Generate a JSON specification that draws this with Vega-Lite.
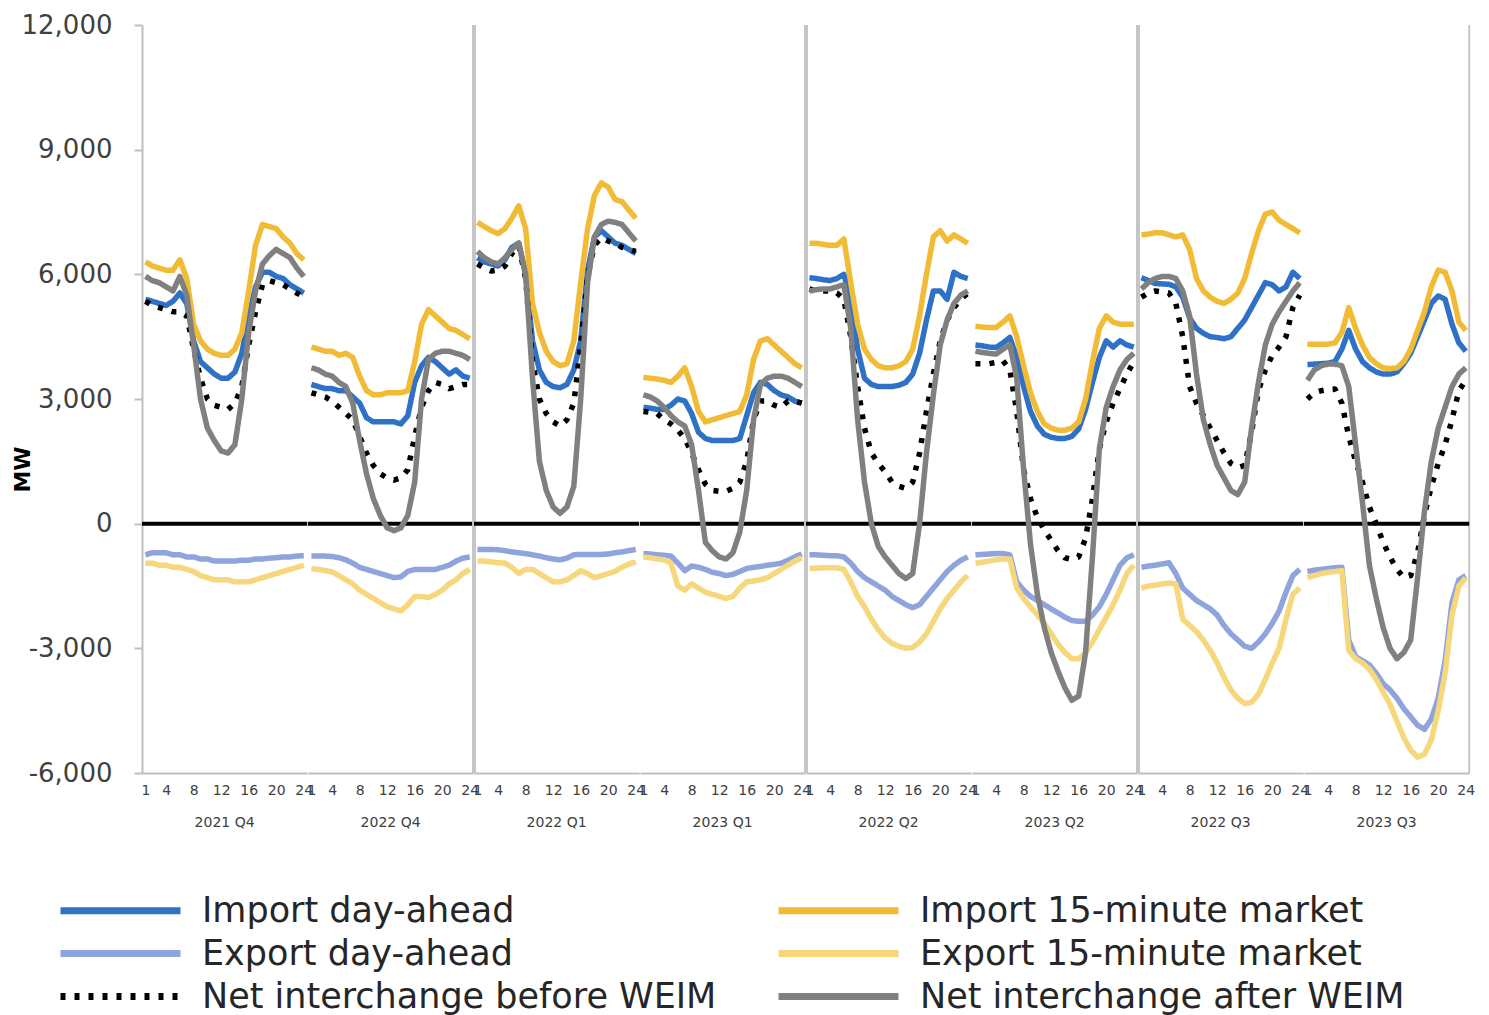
{
  "$schema": "https://vega.github.io/schema/vega-lite/v6.json",
  "background": "white",
  "padding": {"left": 11, "top": 12, "right": 10, "bottom": 4},
  "bounds": "flush",
  "config": {
    "view": {"stroke": null},
    "font": "DejaVu Sans",
    "axis": {"labelFont": "DejaVu Sans", "titleFont": "DejaVu Sans"},
    "legend": {"labelFont": "DejaVu Sans"}
  },
  "data": {"values": [
{"q":"2021 Q4","h":1,"ida":5400,"i15":6300,"eda":-750,"e15":-950,"nb":5350,"na":5950},
{"q":"2021 Q4","h":2,"ida":5350,"i15":6200,"eda":-700,"e15":-950,"nb":5250,"na":5850},
{"q":"2021 Q4","h":3,"ida":5300,"i15":6150,"eda":-700,"e15":-1000,"nb":5200,"na":5800},
{"q":"2021 Q4","h":4,"ida":5250,"i15":6100,"eda":-700,"e15":-1000,"nb":5150,"na":5700},
{"q":"2021 Q4","h":5,"ida":5350,"i15":6100,"eda":-750,"e15":-1050,"nb":5100,"na":5600},
{"q":"2021 Q4","h":6,"ida":5550,"i15":6350,"eda":-750,"e15":-1050,"nb":5100,"na":5950},
{"q":"2021 Q4","h":7,"ida":5300,"i15":5900,"eda":-800,"e15":-1100,"nb":5000,"na":5500},
{"q":"2021 Q4","h":8,"ida":4400,"i15":4800,"eda":-800,"e15":-1150,"nb":4200,"na":4300},
{"q":"2021 Q4","h":9,"ida":3900,"i15":4400,"eda":-850,"e15":-1250,"nb":3500,"na":3000},
{"q":"2021 Q4","h":10,"ida":3750,"i15":4200,"eda":-850,"e15":-1300,"nb":3000,"na":2300},
{"q":"2021 Q4","h":11,"ida":3600,"i15":4100,"eda":-900,"e15":-1350,"nb":2850,"na":2000},
{"q":"2021 Q4","h":12,"ida":3500,"i15":4050,"eda":-900,"e15":-1350,"nb":2800,"na":1750},
{"q":"2021 Q4","h":13,"ida":3500,"i15":4050,"eda":-900,"e15":-1350,"nb":2750,"na":1700},
{"q":"2021 Q4","h":14,"ida":3650,"i15":4200,"eda":-900,"e15":-1400,"nb":2900,"na":1900},
{"q":"2021 Q4","h":15,"ida":4100,"i15":4600,"eda":-880,"e15":-1400,"nb":3300,"na":3000},
{"q":"2021 Q4","h":16,"ida":5000,"i15":5600,"eda":-880,"e15":-1400,"nb":4300,"na":4600},
{"q":"2021 Q4","h":17,"ida":5700,"i15":6700,"eda":-850,"e15":-1350,"nb":5100,"na":5600},
{"q":"2021 Q4","h":18,"ida":6050,"i15":7200,"eda":-850,"e15":-1300,"nb":5750,"na":6250},
{"q":"2021 Q4","h":19,"ida":6050,"i15":7150,"eda":-830,"e15":-1250,"nb":5850,"na":6450},
{"q":"2021 Q4","h":20,"ida":5950,"i15":7100,"eda":-820,"e15":-1200,"nb":5800,"na":6600},
{"q":"2021 Q4","h":21,"ida":5900,"i15":6900,"eda":-800,"e15":-1150,"nb":5750,"na":6500},
{"q":"2021 Q4","h":22,"ida":5750,"i15":6750,"eda":-800,"e15":-1100,"nb":5650,"na":6400},
{"q":"2021 Q4","h":23,"ida":5650,"i15":6500,"eda":-780,"e15":-1050,"nb":5550,"na":6150},
{"q":"2021 Q4","h":24,"ida":5550,"i15":6350,"eda":-770,"e15":-1000,"nb":5450,"na":5950},
{"q":"2022 Q4","h":1,"ida":3350,"i15":4250,"eda":-780,"e15":-1080,"nb":3150,"na":3750},
{"q":"2022 Q4","h":2,"ida":3300,"i15":4200,"eda":-780,"e15":-1100,"nb":3100,"na":3700},
{"q":"2022 Q4","h":3,"ida":3250,"i15":4150,"eda":-780,"e15":-1130,"nb":3050,"na":3600},
{"q":"2022 Q4","h":4,"ida":3250,"i15":4150,"eda":-790,"e15":-1160,"nb":2950,"na":3550},
{"q":"2022 Q4","h":5,"ida":3200,"i15":4050,"eda":-820,"e15":-1250,"nb":2800,"na":3400},
{"q":"2022 Q4","h":6,"ida":3200,"i15":4100,"eda":-870,"e15":-1350,"nb":2650,"na":3300},
{"q":"2022 Q4","h":7,"ida":3050,"i15":4000,"eda":-950,"e15":-1450,"nb":2500,"na":2900},
{"q":"2022 Q4","h":8,"ida":2900,"i15":3550,"eda":-1050,"e15":-1600,"nb":2100,"na":2000},
{"q":"2022 Q4","h":9,"ida":2550,"i15":3200,"eda":-1100,"e15":-1700,"nb":1700,"na":1200},
{"q":"2022 Q4","h":10,"ida":2450,"i15":3100,"eda":-1150,"e15":-1800,"nb":1400,"na":600},
{"q":"2022 Q4","h":11,"ida":2450,"i15":3100,"eda":-1200,"e15":-1900,"nb":1200,"na":200},
{"q":"2022 Q4","h":12,"ida":2450,"i15":3150,"eda":-1250,"e15":-2000,"nb":1100,"na":-100},
{"q":"2022 Q4","h":13,"ida":2450,"i15":3150,"eda":-1300,"e15":-2050,"nb":1050,"na":-170},
{"q":"2022 Q4","h":14,"ida":2400,"i15":3150,"eda":-1280,"e15":-2100,"nb":1100,"na":-100},
{"q":"2022 Q4","h":15,"ida":2600,"i15":3200,"eda":-1150,"e15":-1950,"nb":1300,"na":200},
{"q":"2022 Q4","h":16,"ida":3400,"i15":3900,"eda":-1100,"e15":-1750,"nb":2100,"na":1000},
{"q":"2022 Q4","h":17,"ida":3800,"i15":4800,"eda":-1100,"e15":-1750,"nb":2800,"na":3000},
{"q":"2022 Q4","h":18,"ida":4000,"i15":5150,"eda":-1100,"e15":-1780,"nb":3200,"na":3950},
{"q":"2022 Q4","h":19,"ida":3900,"i15":5000,"eda":-1100,"e15":-1700,"nb":3400,"na":4100},
{"q":"2022 Q4","h":20,"ida":3750,"i15":4850,"eda":-1050,"e15":-1600,"nb":3350,"na":4150},
{"q":"2022 Q4","h":21,"ida":3600,"i15":4700,"eda":-1000,"e15":-1450,"nb":3250,"na":4150},
{"q":"2022 Q4","h":22,"ida":3700,"i15":4650,"eda":-900,"e15":-1350,"nb":3300,"na":4100},
{"q":"2022 Q4","h":23,"ida":3550,"i15":4550,"eda":-830,"e15":-1200,"nb":3350,"na":4050},
{"q":"2022 Q4","h":24,"ida":3500,"i15":4450,"eda":-800,"e15":-1100,"nb":3350,"na":3950},
{"q":"2022 Q1","h":1,"ida":6400,"i15":7250,"eda":-620,"e15":-900,"nb":6250,"na":6550},
{"q":"2022 Q1","h":2,"ida":6300,"i15":7150,"eda":-620,"e15":-900,"nb":6150,"na":6400},
{"q":"2022 Q1","h":3,"ida":6250,"i15":7050,"eda":-620,"e15":-920,"nb":6080,"na":6300},
{"q":"2022 Q1","h":4,"ida":6200,"i15":6980,"eda":-630,"e15":-940,"nb":6100,"na":6250},
{"q":"2022 Q1","h":5,"ida":6350,"i15":7100,"eda":-650,"e15":-950,"nb":6200,"na":6400},
{"q":"2022 Q1","h":6,"ida":6650,"i15":7350,"eda":-680,"e15":-1050,"nb":6500,"na":6600},
{"q":"2022 Q1","h":7,"ida":6750,"i15":7650,"eda":-700,"e15":-1200,"nb":6700,"na":6750},
{"q":"2022 Q1","h":8,"ida":6000,"i15":7100,"eda":-720,"e15":-1100,"nb":5900,"na":6000},
{"q":"2022 Q1","h":9,"ida":4400,"i15":5300,"eda":-750,"e15":-1100,"nb":3900,"na":3500},
{"q":"2022 Q1","h":10,"ida":3700,"i15":4600,"eda":-780,"e15":-1200,"nb":3000,"na":1500},
{"q":"2022 Q1","h":11,"ida":3400,"i15":4150,"eda":-820,"e15":-1300,"nb":2650,"na":800},
{"q":"2022 Q1","h":12,"ida":3300,"i15":3900,"eda":-850,"e15":-1400,"nb":2450,"na":400},
{"q":"2022 Q1","h":13,"ida":3270,"i15":3800,"eda":-870,"e15":-1400,"nb":2350,"na":250},
{"q":"2022 Q1","h":14,"ida":3350,"i15":3850,"eda":-830,"e15":-1350,"nb":2500,"na":400},
{"q":"2022 Q1","h":15,"ida":3700,"i15":4400,"eda":-750,"e15":-1250,"nb":2900,"na":900},
{"q":"2022 Q1","h":16,"ida":4400,"i15":5800,"eda":-740,"e15":-1130,"nb":4300,"na":3000},
{"q":"2022 Q1","h":17,"ida":6100,"i15":7100,"eda":-740,"e15":-1200,"nb":5950,"na":5800},
{"q":"2022 Q1","h":18,"ida":6900,"i15":7900,"eda":-740,"e15":-1300,"nb":6700,"na":6900},
{"q":"2022 Q1","h":19,"ida":7050,"i15":8200,"eda":-740,"e15":-1250,"nb":6880,"na":7200},
{"q":"2022 Q1","h":20,"ida":6900,"i15":8100,"eda":-730,"e15":-1200,"nb":6800,"na":7280},
{"q":"2022 Q1","h":21,"ida":6750,"i15":7800,"eda":-700,"e15":-1150,"nb":6750,"na":7250},
{"q":"2022 Q1","h":22,"ida":6700,"i15":7750,"eda":-680,"e15":-1050,"nb":6650,"na":7200},
{"q":"2022 Q1","h":23,"ida":6600,"i15":7550,"eda":-650,"e15":-970,"nb":6600,"na":7000},
{"q":"2022 Q1","h":24,"ida":6500,"i15":7350,"eda":-620,"e15":-920,"nb":6550,"na":6800},
{"q":"2023 Q1","h":1,"ida":2800,"i15":3520,"eda":-720,"e15":-800,"nb":2700,"na":3100},
{"q":"2023 Q1","h":2,"ida":2780,"i15":3500,"eda":-730,"e15":-820,"nb":2680,"na":3050},
{"q":"2023 Q1","h":3,"ida":2750,"i15":3480,"eda":-750,"e15":-850,"nb":2650,"na":2950},
{"q":"2023 Q1","h":4,"ida":2750,"i15":3450,"eda":-760,"e15":-870,"nb":2500,"na":2800},
{"q":"2023 Q1","h":5,"ida":2850,"i15":3400,"eda":-780,"e15":-950,"nb":2400,"na":2600},
{"q":"2023 Q1","h":6,"ida":3000,"i15":3550,"eda":-950,"e15":-1500,"nb":2250,"na":2450},
{"q":"2023 Q1","h":7,"ida":2950,"i15":3750,"eda":-1130,"e15":-1600,"nb":2050,"na":2350},
{"q":"2023 Q1","h":8,"ida":2650,"i15":3300,"eda":-1020,"e15":-1450,"nb":1700,"na":1900},
{"q":"2023 Q1","h":9,"ida":2200,"i15":2700,"eda":-1050,"e15":-1550,"nb":1300,"na":800},
{"q":"2023 Q1","h":10,"ida":2050,"i15":2450,"eda":-1100,"e15":-1650,"nb":950,"na":-450},
{"q":"2023 Q1","h":11,"ida":2000,"i15":2500,"eda":-1170,"e15":-1700,"nb":800,"na":-650},
{"q":"2023 Q1","h":12,"ida":2000,"i15":2550,"eda":-1200,"e15":-1750,"nb":780,"na":-800},
{"q":"2023 Q1","h":13,"ida":2000,"i15":2600,"eda":-1250,"e15":-1800,"nb":780,"na":-850},
{"q":"2023 Q1","h":14,"ida":2000,"i15":2650,"eda":-1220,"e15":-1750,"nb":850,"na":-700},
{"q":"2023 Q1","h":15,"ida":2050,"i15":2700,"eda":-1150,"e15":-1550,"nb":1000,"na":-200},
{"q":"2023 Q1","h":16,"ida":2600,"i15":3100,"eda":-1080,"e15":-1400,"nb":1500,"na":800},
{"q":"2023 Q1","h":17,"ida":3150,"i15":3950,"eda":-1050,"e15":-1380,"nb":2500,"na":2500},
{"q":"2023 Q1","h":18,"ida":3400,"i15":4400,"eda":-1030,"e15":-1350,"nb":2950,"na":3350},
{"q":"2023 Q1","h":19,"ida":3350,"i15":4450,"eda":-1000,"e15":-1300,"nb":2950,"na":3500},
{"q":"2023 Q1","h":20,"ida":3200,"i15":4300,"eda":-980,"e15":-1200,"nb":2850,"na":3550},
{"q":"2023 Q1","h":21,"ida":3100,"i15":4150,"eda":-950,"e15":-1100,"nb":2800,"na":3550},
{"q":"2023 Q1","h":22,"ida":3050,"i15":4000,"eda":-880,"e15":-1000,"nb":2950,"na":3500},
{"q":"2023 Q1","h":23,"ida":2950,"i15":3850,"eda":-800,"e15":-900,"nb":2950,"na":3400},
{"q":"2023 Q1","h":24,"ida":2900,"i15":3750,"eda":-730,"e15":-820,"nb":2900,"na":3300},
{"q":"2022 Q2","h":1,"ida":5920,"i15":6750,"eda":-750,"e15":-1080,"nb":5650,"na":5600},
{"q":"2022 Q2","h":2,"ida":5900,"i15":6750,"eda":-750,"e15":-1070,"nb":5600,"na":5630},
{"q":"2022 Q2","h":3,"ida":5870,"i15":6720,"eda":-760,"e15":-1060,"nb":5600,"na":5650},
{"q":"2022 Q2","h":4,"ida":5850,"i15":6700,"eda":-770,"e15":-1060,"nb":5600,"na":5650},
{"q":"2022 Q2","h":5,"ida":5900,"i15":6700,"eda":-770,"e15":-1060,"nb":5550,"na":5700},
{"q":"2022 Q2","h":6,"ida":6000,"i15":6850,"eda":-800,"e15":-1100,"nb":5400,"na":5750},
{"q":"2022 Q2","h":7,"ida":5400,"i15":5800,"eda":-950,"e15":-1400,"nb":4500,"na":4700},
{"q":"2022 Q2","h":8,"ida":4200,"i15":4800,"eda":-1150,"e15":-1750,"nb":3300,"na":2500},
{"q":"2022 Q2","h":9,"ida":3500,"i15":4200,"eda":-1300,"e15":-2000,"nb":2300,"na":1000},
{"q":"2022 Q2","h":10,"ida":3350,"i15":3950,"eda":-1400,"e15":-2300,"nb":1700,"na":0},
{"q":"2022 Q2","h":11,"ida":3300,"i15":3800,"eda":-1500,"e15":-2550,"nb":1450,"na":-550},
{"q":"2022 Q2","h":12,"ida":3300,"i15":3750,"eda":-1600,"e15":-2750,"nb":1250,"na":-800},
{"q":"2022 Q2","h":13,"ida":3300,"i15":3750,"eda":-1750,"e15":-2880,"nb":1000,"na":-1000},
{"q":"2022 Q2","h":14,"ida":3330,"i15":3800,"eda":-1850,"e15":-2950,"nb":900,"na":-1200},
{"q":"2022 Q2","h":15,"ida":3400,"i15":3900,"eda":-1950,"e15":-3000,"nb":850,"na":-1320},
{"q":"2022 Q2","h":16,"ida":3600,"i15":4200,"eda":-2020,"e15":-2980,"nb":1000,"na":-1200},
{"q":"2022 Q2","h":17,"ida":4100,"i15":5000,"eda":-1950,"e15":-2850,"nb":1700,"na":0},
{"q":"2022 Q2","h":18,"ida":4900,"i15":6000,"eda":-1750,"e15":-2650,"nb":2700,"na":1700},
{"q":"2022 Q2","h":19,"ida":5600,"i15":6900,"eda":-1550,"e15":-2350,"nb":3600,"na":3100},
{"q":"2022 Q2","h":20,"ida":5600,"i15":7050,"eda":-1350,"e15":-2050,"nb":4400,"na":4300},
{"q":"2022 Q2","h":21,"ida":5400,"i15":6800,"eda":-1150,"e15":-1800,"nb":4900,"na":4900},
{"q":"2022 Q2","h":22,"ida":6050,"i15":6950,"eda":-1000,"e15":-1600,"nb":5200,"na":5300},
{"q":"2022 Q2","h":23,"ida":5950,"i15":6850,"eda":-880,"e15":-1400,"nb":5400,"na":5500},
{"q":"2022 Q2","h":24,"ida":5900,"i15":6750,"eda":-800,"e15":-1250,"nb":5550,"na":5600},
{"q":"2023 Q2","h":1,"ida":4300,"i15":4750,"eda":-750,"e15":-950,"nb":3850,"na":4150},
{"q":"2023 Q2","h":2,"ida":4280,"i15":4730,"eda":-740,"e15":-930,"nb":3850,"na":4120},
{"q":"2023 Q2","h":3,"ida":4250,"i15":4720,"eda":-730,"e15":-900,"nb":3850,"na":4100},
{"q":"2023 Q2","h":4,"ida":4240,"i15":4720,"eda":-720,"e15":-870,"nb":3880,"na":4080},
{"q":"2023 Q2","h":5,"ida":4350,"i15":4850,"eda":-720,"e15":-850,"nb":3920,"na":4200},
{"q":"2023 Q2","h":6,"ida":4480,"i15":5000,"eda":-750,"e15":-850,"nb":3700,"na":4300},
{"q":"2023 Q2","h":7,"ida":4000,"i15":4500,"eda":-1400,"e15":-1550,"nb":2700,"na":3500},
{"q":"2023 Q2","h":8,"ida":3300,"i15":3800,"eda":-1600,"e15":-1800,"nb":1300,"na":1300},
{"q":"2023 Q2","h":9,"ida":2700,"i15":3150,"eda":-1750,"e15":-2000,"nb":600,"na":-500},
{"q":"2023 Q2","h":10,"ida":2350,"i15":2700,"eda":-1850,"e15":-2200,"nb":150,"na":-1700},
{"q":"2023 Q2","h":11,"ida":2150,"i15":2400,"eda":-1950,"e15":-2400,"nb":-150,"na":-2500},
{"q":"2023 Q2","h":12,"ida":2080,"i15":2300,"eda":-2050,"e15":-2650,"nb":-400,"na":-3100},
{"q":"2023 Q2","h":13,"ida":2050,"i15":2250,"eda":-2150,"e15":-2900,"nb":-650,"na":-3550},
{"q":"2023 Q2","h":14,"ida":2050,"i15":2250,"eda":-2250,"e15":-3100,"nb":-820,"na":-3950},
{"q":"2023 Q2","h":15,"ida":2100,"i15":2300,"eda":-2330,"e15":-3250,"nb":-860,"na":-4250},
{"q":"2023 Q2","h":16,"ida":2280,"i15":2450,"eda":-2350,"e15":-3250,"nb":-800,"na":-4150},
{"q":"2023 Q2","h":17,"ida":2750,"i15":3000,"eda":-2350,"e15":-3100,"nb":-350,"na":-3100},
{"q":"2023 Q2","h":18,"ida":3400,"i15":3900,"eda":-2200,"e15":-2850,"nb":600,"na":-800},
{"q":"2023 Q2","h":19,"ida":4000,"i15":4700,"eda":-2000,"e15":-2550,"nb":1800,"na":1800},
{"q":"2023 Q2","h":20,"ida":4400,"i15":5000,"eda":-1700,"e15":-2250,"nb":2450,"na":2800},
{"q":"2023 Q2","h":21,"ida":4250,"i15":4850,"eda":-1350,"e15":-1950,"nb":2900,"na":3300},
{"q":"2023 Q2","h":22,"ida":4400,"i15":4800,"eda":-1000,"e15":-1600,"nb":3250,"na":3700},
{"q":"2023 Q2","h":23,"ida":4300,"i15":4800,"eda":-820,"e15":-1200,"nb":3600,"na":3950},
{"q":"2023 Q2","h":24,"ida":4250,"i15":4800,"eda":-750,"e15":-1000,"nb":3900,"na":4100},
{"q":"2022 Q3","h":1,"ida":5920,"i15":6950,"eda":-1050,"e15":-1550,"nb":5450,"na":5650},
{"q":"2022 Q3","h":2,"ida":5850,"i15":6970,"eda":-1020,"e15":-1500,"nb":5550,"na":5800},
{"q":"2022 Q3","h":3,"ida":5780,"i15":7000,"eda":-1000,"e15":-1480,"nb":5600,"na":5900},
{"q":"2022 Q3","h":4,"ida":5770,"i15":7000,"eda":-970,"e15":-1450,"nb":5580,"na":5950},
{"q":"2022 Q3","h":5,"ida":5760,"i15":6950,"eda":-940,"e15":-1430,"nb":5550,"na":5950},
{"q":"2022 Q3","h":6,"ida":5700,"i15":6900,"eda":-1200,"e15":-1450,"nb":5300,"na":5900},
{"q":"2022 Q3","h":7,"ida":5450,"i15":6950,"eda":-1550,"e15":-2300,"nb":4500,"na":5600},
{"q":"2022 Q3","h":8,"ida":4950,"i15":6600,"eda":-1700,"e15":-2450,"nb":3300,"na":5000},
{"q":"2022 Q3","h":9,"ida":4700,"i15":5900,"eda":-1850,"e15":-2600,"nb":2900,"na":3600},
{"q":"2022 Q3","h":10,"ida":4580,"i15":5600,"eda":-1950,"e15":-2800,"nb":2600,"na":2500},
{"q":"2022 Q3","h":11,"ida":4500,"i15":5450,"eda":-2050,"e15":-3050,"nb":2300,"na":1900},
{"q":"2022 Q3","h":12,"ida":4480,"i15":5350,"eda":-2200,"e15":-3350,"nb":2000,"na":1400},
{"q":"2022 Q3","h":13,"ida":4450,"i15":5300,"eda":-2450,"e15":-3700,"nb":1700,"na":1100},
{"q":"2022 Q3","h":14,"ida":4500,"i15":5400,"eda":-2650,"e15":-4000,"nb":1450,"na":800},
{"q":"2022 Q3","h":15,"ida":4700,"i15":5550,"eda":-2800,"e15":-4200,"nb":1350,"na":700},
{"q":"2022 Q3","h":16,"ida":4900,"i15":5900,"eda":-2950,"e15":-4330,"nb":1400,"na":1000},
{"q":"2022 Q3","h":17,"ida":5200,"i15":6500,"eda":-3000,"e15":-4300,"nb":2200,"na":2300},
{"q":"2022 Q3","h":18,"ida":5500,"i15":7050,"eda":-2850,"e15":-4100,"nb":3200,"na":3400},
{"q":"2022 Q3","h":19,"ida":5800,"i15":7450,"eda":-2650,"e15":-3750,"nb":3700,"na":4300},
{"q":"2022 Q3","h":20,"ida":5750,"i15":7500,"eda":-2400,"e15":-3350,"nb":4050,"na":4800},
{"q":"2022 Q3","h":21,"ida":5600,"i15":7300,"eda":-2100,"e15":-3000,"nb":4250,"na":5100},
{"q":"2022 Q3","h":22,"ida":5700,"i15":7200,"eda":-1650,"e15":-2300,"nb":4500,"na":5350},
{"q":"2022 Q3","h":23,"ida":6050,"i15":7100,"eda":-1250,"e15":-1700,"nb":5200,"na":5600},
{"q":"2022 Q3","h":24,"ida":5900,"i15":7000,"eda":-1100,"e15":-1550,"nb":5500,"na":5800},
{"q":"2023 Q3","h":1,"ida":3830,"i15":4320,"eda":-1150,"e15":-1300,"nb":3000,"na":3450},
{"q":"2023 Q3","h":2,"ida":3840,"i15":4320,"eda":-1120,"e15":-1250,"nb":3150,"na":3700},
{"q":"2023 Q3","h":3,"ida":3850,"i15":4320,"eda":-1100,"e15":-1200,"nb":3200,"na":3800},
{"q":"2023 Q3","h":4,"ida":3860,"i15":4320,"eda":-1080,"e15":-1170,"nb":3230,"na":3840},
{"q":"2023 Q3","h":5,"ida":3900,"i15":4350,"eda":-1060,"e15":-1150,"nb":3240,"na":3840},
{"q":"2023 Q3","h":6,"ida":4200,"i15":4600,"eda":-1050,"e15":-1130,"nb":2900,"na":3800},
{"q":"2023 Q3","h":7,"ida":4650,"i15":5200,"eda":-2800,"e15":-3050,"nb":2100,"na":3300},
{"q":"2023 Q3","h":8,"ida":4200,"i15":4700,"eda":-3200,"e15":-3250,"nb":1500,"na":1900},
{"q":"2023 Q3","h":9,"ida":3900,"i15":4300,"eda":-3300,"e15":-3350,"nb":1000,"na":500},
{"q":"2023 Q3","h":10,"ida":3750,"i15":4000,"eda":-3400,"e15":-3500,"nb":400,"na":-1000},
{"q":"2023 Q3","h":11,"ida":3650,"i15":3850,"eda":-3600,"e15":-3750,"nb":0,"na":-1800},
{"q":"2023 Q3","h":12,"ida":3600,"i15":3750,"eda":-3850,"e15":-4050,"nb":-450,"na":-2500},
{"q":"2023 Q3","h":13,"ida":3600,"i15":3730,"eda":-4000,"e15":-4350,"nb":-800,"na":-3000},
{"q":"2023 Q3","h":14,"ida":3650,"i15":3750,"eda":-4200,"e15":-4750,"nb":-1100,"na":-3250},
{"q":"2023 Q3","h":15,"ida":3850,"i15":3900,"eda":-4450,"e15":-5150,"nb":-1300,"na":-3100},
{"q":"2023 Q3","h":16,"ida":4100,"i15":4200,"eda":-4650,"e15":-5450,"nb":-1250,"na":-2800},
{"q":"2023 Q3","h":17,"ida":4500,"i15":4650,"eda":-4850,"e15":-5620,"nb":-700,"na":-1300},
{"q":"2023 Q3","h":18,"ida":4900,"i15":5100,"eda":-4950,"e15":-5550,"nb":200,"na":300},
{"q":"2023 Q3","h":19,"ida":5300,"i15":5700,"eda":-4700,"e15":-5200,"nb":900,"na":1500},
{"q":"2023 Q3","h":20,"ida":5480,"i15":6100,"eda":-4200,"e15":-4500,"nb":1450,"na":2300},
{"q":"2023 Q3","h":21,"ida":5400,"i15":6050,"eda":-3300,"e15":-3600,"nb":1900,"na":2800},
{"q":"2023 Q3","h":22,"ida":4800,"i15":5600,"eda":-1900,"e15":-2200,"nb":2500,"na":3300},
{"q":"2023 Q3","h":23,"ida":4350,"i15":4850,"eda":-1350,"e15":-1500,"nb":3200,"na":3600},
{"q":"2023 Q3","h":24,"ida":4150,"i15":4650,"eda":-1250,"e15":-1300,"nb":3450,"na":3750}
  ]},
  "facet": {
    "column": {
      "field": "q", "type": "nominal",
      "sort": ["2021 Q4","2022 Q4","2022 Q1","2023 Q1","2022 Q2","2023 Q2","2022 Q3","2023 Q3"],
      "header": {"title": null, "labelOrient": "bottom", "labelFont": "DejaVu Sans", "labelFontSize": 14, "labelColor": "#404040", "labelPadding": 19}
    }
  },
  "spacing": 0,
  "spec": {
    "width": 165.2,
    "height": 748,
    "layer": [
      {
        "transform": [{"filter": "datum.h == 1 && (datum.q == '2022 Q1' || datum.q == '2022 Q2' || datum.q == '2022 Q3')"}],
        "mark": {"type": "rule", "color": "#c6c6c6", "strokeWidth": 4},
        "encoding": {"x": {"datum": 0.5, "type": "quantitative"}}
      },
      {
        "transform": [{"filter": "datum.h == 24 && datum.q == '2023 Q3'"}],
        "mark": {"type": "rule", "color": "#c6c6c6", "strokeWidth": 2},
        "encoding": {"x": {"datum": 24.5, "type": "quantitative"}}
      },
      {
        "transform": [{"filter": "datum.h == 1"}],
        "mark": {"type": "rule", "color": "#000000", "strokeWidth": 4},
        "encoding": {"y": {"datum": 0, "type": "quantitative"}}
      },
      {
        "transform": [{"fold": ["ida", "i15", "eda", "e15", "nb", "na"], "as": ["s", "mw"]}],
        "mark": {"type": "line", "strokeWidth": 5.5, "strokeJoin": "round"},
        "encoding": {
          "x": {
            "field": "h", "type": "quantitative",
            "scale": {"domain": [0.5, 24.5], "nice": false, "zero": false},
            "axis": {"title": null, "values": [1, 4, 8, 12, 16, 20, 24], "tickCount": 30, "labelOverlap": false, "grid": false, "ticks": false, "labelFontSize": 14, "labelColor": "#404040", "labelPadding": 10, "domainColor": "#bfbfbf", "domainWidth": 2, "labelFlush": false}
          },
          "y": {
            "field": "mw", "type": "quantitative",
            "scale": {"domain": [-6000, 12000], "nice": false},
            "axis": {"title": "MW", "values": [-6000, -3000, 0, 3000, 6000, 9000, 12000], "tickCount": 10, "format": ",d", "labelExpr": "replace(datum.label, '−', '-')", "labelFontSize": 26, "labelColor": "#404040", "labelPadding": 22, "tickSize": 8, "tickColor": "#bfbfbf", "tickWidth": 2, "domainColor": "#bfbfbf", "domainWidth": 2, "gridColor": "#c0c0c0", "gridWidth": 2, "titleFontSize": 22, "titleFontWeight": "bold", "titleColor": "#000000", "titleX": -120, "titleY": 444, "titleAlign": "center", "titleBaseline": "middle"}
          },
          "color": {
            "field": "s", "type": "nominal",
            "scale": {"domain": ["ida", "i15", "eda", "e15", "nb", "na"], "range": ["#2f71c6", "#f2bb36", "#8fa4dc", "#f6d77c", "#000000", "#808080"]},
            "legend": {
              "title": null, "orient": "none", "legendX": -45, "legendY": 862, "columns": 2, "direction": "horizontal",
              "labelExpr": "{'ida':'Import day-ahead','i15':'Import 15-minute market','eda':'Export day-ahead','e15':'Export 15-minute market','nb':'Net interchange before WEIM','na':'Net interchange after WEIM'}[datum.label]",
              "labelFontSize": 35, "labelColor": "#262626", "labelLimit": 1000, "labelOffset": 58,
              "symbolType": "M-3,0H3", "symbolSize": 1600, "symbolStrokeWidth": 7, "symbolFillColor": "transparent",
              "columnPadding": 47, "rowPadding": 1
            }
          },
          "strokeDash": {
            "field": "s", "type": "nominal",
            "scale": {"domain": ["ida", "i15", "eda", "e15", "nb", "na"], "range": [[1, 0], [1, 0], [1, 0], [1, 0], [5, 9], [1, 0]]}
          }
        }
      }
    ]
  }
}
